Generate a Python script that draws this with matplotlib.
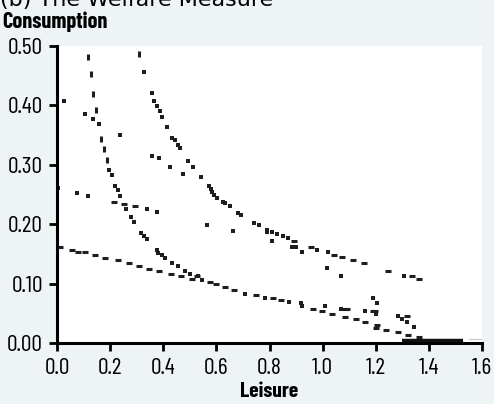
import matplotlib
matplotlib.use("Agg")
import matplotlib.pyplot as plt
from matplotlib import font_manager
import logging
logging.getLogger("matplotlib.font_manager").setLevel(logging.ERROR)

names = {f.name for f in font_manager.fontManager.ttflist}
cands = ["Barlow Condensed", "Sofia Sans Condensed", "Roboto Condensed", "Archivo Narrow",
         "Liberation Sans Narrow", "Open Sans Condensed"]
fams = [c for c in cands if c in names] + ["DejaVu Sans"]
plt.rcParams['font.family'] = fams

# ---- data (Leisure, Consumption) ----
dot_x = [0.328, 0.358, 0.367, 0.377, 0.387, 0.395, 0.415, 0.434, 0.444, 0.454, 0.464, 0.493,
         0.513, 0.543, 0.572, 0.579, 0.584, 0.590, 0.603, 0.624, 0.634, 0.650, 0.682, 0.693,
         0.741, 0.762, 0.789, 0.791, 0.810, 0.829, 0.850, 0.870, 0.886, 0.900, 0.923, 0.980,
         1.021, 1.307,
         0.026, 0.005, 0.077, 0.117, 0.107, 0.137, 0.157, 0.238, 0.358, 0.384, 0.424, 0.474,
         0.338, 0.376, 0.565, 0.662, 0.810, 1.018, 1.068,
         0.197, 0.208, 0.218, 0.228, 0.238, 0.259, 0.279, 0.288, 0.317, 0.326, 0.338, 0.376,
         0.382, 0.395, 0.405, 0.433, 0.455, 0.483, 0.502, 0.529, 0.546, 0.707, 0.782, 0.875,
         0.917, 0.923, 1.009, 1.068, 1.160, 1.190, 1.206, 1.200, 1.285, 1.298, 1.316, 1.345]
dot_y = [0.457, 0.421, 0.408, 0.399, 0.390, 0.381, 0.363, 0.345, 0.341, 0.333, 0.328, 0.306,
         0.297, 0.279, 0.265, 0.260, 0.255, 0.249, 0.244, 0.238, 0.235, 0.230, 0.219, 0.215,
         0.202, 0.198, 0.191, 0.187, 0.187, 0.184, 0.180, 0.177, 0.161, 0.161, 0.154, 0.157,
         0.153, 0.112,
         0.408, 0.261, 0.252, 0.248, 0.386, 0.377, 0.368, 0.350, 0.315, 0.311, 0.297, 0.284,
         0.225, 0.220, 0.199, 0.189, 0.171, 0.126, 0.112,
         0.292, 0.283, 0.265, 0.257, 0.247, 0.225, 0.212, 0.203, 0.185, 0.180, 0.175, 0.157,
         0.152, 0.148, 0.143, 0.135, 0.130, 0.121, 0.117, 0.112, 0.106, 0.082, 0.076, 0.069,
         0.067, 0.062, 0.063, 0.058, 0.054, 0.076, 0.067, 0.049, 0.045, 0.041, 0.036, 0.027]

hdash_x = [0.011, 0.055, 0.080, 0.106, 0.143, 0.181, 0.231, 0.272, 0.307, 0.347, 0.385, 0.430,
           0.468, 0.508, 0.213, 0.254, 0.292, 0.527, 0.577, 0.599, 0.634, 0.668, 0.750, 0.812,
           0.842, 0.963, 0.999, 1.034, 1.084, 1.092, 1.084, 1.125, 1.160, 1.190, 1.198, 1.203,
           1.200, 1.240, 1.282, 1.318, 1.320, 1.361, 1.074, 1.114, 1.156, 1.246, 1.336, 1.361,
           0.894, 0.955, 1.043]
hdash_y = [0.161, 0.157, 0.153, 0.153, 0.148, 0.143, 0.139, 0.134, 0.130, 0.125, 0.121, 0.116,
           0.112, 0.107, 0.238, 0.234, 0.230, 0.113, 0.102, 0.099, 0.094, 0.090, 0.081, 0.076,
           0.072, 0.058, 0.054, 0.049, 0.058, 0.058, 0.044, 0.040, 0.035, 0.054, 0.054, 0.031,
           0.026, 0.022, 0.018, 0.045, 0.013, 0.010, 0.144, 0.139, 0.135, 0.121, 0.112, 0.108,
           0.171, 0.162, 0.148]

vdash_x = [0.117, 0.127, 0.137, 0.147, 0.167, 0.177, 0.187, 0.307]
vdash_y = [0.482, 0.453, 0.419, 0.393, 0.343, 0.326, 0.308, 0.487]

bar_x = [1.30, 1.53]
bar_y = [0.004, 0.004]
faint_x = [1.55, 1.60]
faint_y = [0.006, 0.006]

xticks = [0.0, 0.2, 0.4, 0.6, 0.8, 1.0, 1.2, 1.4, 1.6]
xtick_labels = ["0.0", "0.2", "0.4", "0.6", "0.8", "1.0", "1.2", "1.4", "1.6"]
yticks = [0.0, 0.1, 0.2, 0.3, 0.4, 0.5]
ytick_labels = ["0.00", "0.10", "0.20", "0.30", "0.40", "0.50"]

BG = "#eef3f6"
INK = "#1e1e1e"

fig = plt.figure(figsize=(4.94, 4.04), dpi=100, facecolor=BG)
ax = fig.add_axes([57/494, 1 - 343/404, (482 - 57)/494, (343 - 46)/404])
ax.set_facecolor("white")

ax.plot(dot_x, dot_y, ls="none", marker="s", ms=2.3, color=INK, mew=0)
ax.plot(hdash_x, hdash_y, ls="none", marker="_", ms=5.0, mew=2.2, color=INK)
ax.plot(vdash_x, vdash_y, ls="none", marker="|", ms=5.0, mew=2.2, color=INK)
ax.plot(bar_x, bar_y, color="#111111", lw=3.2, solid_capstyle="butt")
ax.plot(faint_x, faint_y, color="#c8c8c8", lw=0.8)

ax.set_xlim(0, 1.6)
ax.set_ylim(0, 0.5)
ax.set_xticks(xticks)
ax.set_xticklabels(xtick_labels)
ax.set_yticks(yticks)
ax.set_yticklabels(ytick_labels)
for s in ["top", "right"]:
    ax.spines[s].set_visible(False)
for s in ["left", "bottom"]:
    ax.spines[s].set_linewidth(2.2)
    ax.spines[s].set_color("black")
ax.tick_params(axis="both", direction="out", length=6, width=2, color="black",
               labelsize=17, pad=4)
ax.tick_params(axis="x", pad=5)
ax.set_xlabel("Leisure", fontsize=15.5, fontweight="bold", labelpad=2)

fig.text(2/494, 1 - 28/404, "Consumption", fontsize=16, fontweight="bold",
         ha="left", va="baseline")
fig.text(0/494, 1 - 6/404, "(b) The Welfare Measure", fontsize=16,
         family=["DejaVu Sans"], ha="left", va="baseline")

fig.savefig("out.png", dpi=100, facecolor=BG)
